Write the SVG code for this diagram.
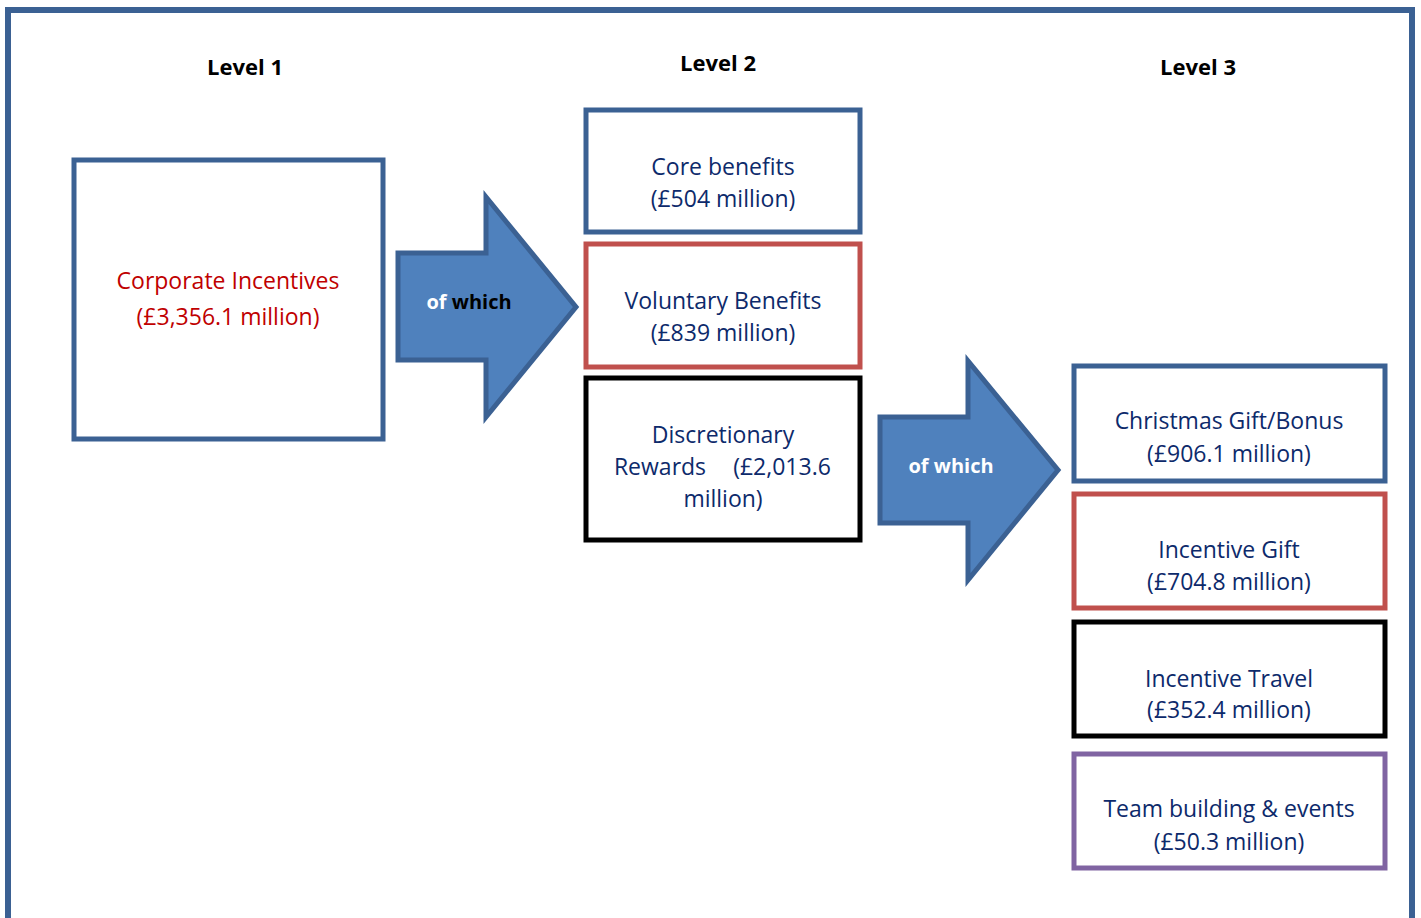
<svg xmlns="http://www.w3.org/2000/svg" width="1421" height="918" viewBox="0 0 1421 918">
<defs>
<style>
.frame{fill:none;stroke:#3B6193;stroke-width:6}
.box{fill:#fff;stroke-width:5}
.blue{stroke:#3B6193}
.red{stroke:#C0504D}
.black{stroke:#000}
.purple{stroke:#8064A2}
.arrow{fill:#4F81BD;stroke:#3B6193;stroke-width:5;stroke-linejoin:miter}
.t{font-family:"Open Sans","Liberation Sans",sans-serif;font-size:23px;fill:#0D2A6B;text-anchor:middle}
.red-t{fill:#C00000}
.lvl{font-family:"Open Sans","Liberation Sans",sans-serif;font-size:22px;font-weight:bold;fill:#000;text-anchor:middle}
.ow{font-family:"Open Sans","Liberation Sans",sans-serif;font-size:20px;font-weight:bold;fill:#fff;text-anchor:middle}
</style>
</defs>
<rect width="1421" height="918" fill="#fff"/>
<rect class="frame" x="8" y="10" width="1404" height="930"/>

<g id="labels">
<text class="lvl" x="245" y="75">Level 1</text>
<text class="lvl" x="718" y="71">Level 2</text>
<text class="lvl" x="1198" y="75">Level 3</text>
</g>

<g id="connectors">
<g id="arrow1">
<polygon class="arrow" points="398,253 486,253 486,197 576,307 486,417 486,360 398,360"/>
<text class="ow" x="469" y="309">of <tspan fill="#000">which</tspan></text>
</g>
<g id="arrow2">
<polygon class="arrow" points="880,417 968,417 968,361 1058,470 968,580 968,523 880,523"/>
<text class="ow" x="951" y="473">of which</text>
</g>
</g>

<g id="corporate">
<rect class="box blue" x="74" y="160" width="309" height="279"/>
<text class="t red-t" x="228" y="289">Corporate Incentives</text>
<text class="t red-t" x="228" y="325">(£3,356.1 million)</text>
</g>

<g id="core">
<rect class="box blue" x="586" y="110" width="274" height="122"/>
<text class="t" x="723" y="175">Core benefits</text>
<text class="t" x="723" y="207">(£504 million)</text>
</g>

<g id="voluntary">
<rect class="box red" x="586" y="244" width="274" height="123"/>
<text class="t" x="723" y="309">Voluntary Benefits</text>
<text class="t" x="723" y="341">(£839 million)</text>
</g>

<g id="discretionary">
<rect class="box black" x="586" y="378" width="274" height="162"/>
<text class="t" x="723" y="443">Discretionary</text>
<text class="t" x="660" y="475">Rewards</text>
<text class="t" x="782" y="475">(£2,013.6</text>
<text class="t" x="723" y="507">million)</text>
</g>

<g id="christmas">
<rect class="box blue" x="1074" y="366" width="311" height="115"/>
<text class="t" x="1229" y="429">Christmas Gift/Bonus</text>
<text class="t" x="1229" y="462">(£906.1 million)</text>
</g>

<g id="incentive-gift">
<rect class="box red" x="1074" y="494" width="311" height="114"/>
<text class="t" x="1229" y="558">Incentive Gift</text>
<text class="t" x="1229" y="590">(£704.8 million)</text>
</g>

<g id="incentive-travel">
<rect class="box black" x="1074" y="622" width="311" height="114"/>
<text class="t" x="1229" y="687">Incentive Travel</text>
<text class="t" x="1229" y="718">(£352.4 million)</text>
</g>

<g id="team-building">
<rect class="box purple" x="1074" y="754" width="311" height="114"/>
<text class="t" x="1229" y="817">Team building &amp; events</text>
<text class="t" x="1229" y="850">(£50.3 million)</text>
</g>
</svg>
